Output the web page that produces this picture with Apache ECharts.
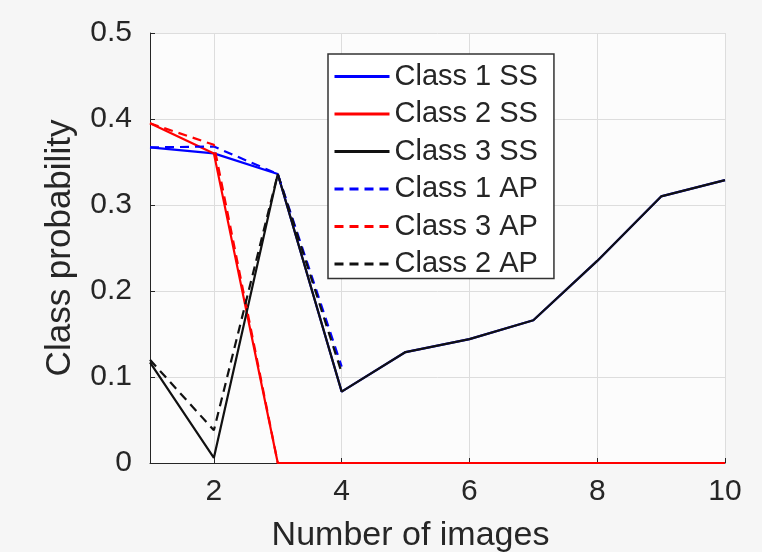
<!DOCTYPE html>
<html><head><meta charset="utf-8">
<script src="https://cdn.jsdelivr.net/npm/echarts@6/dist/echarts.min.js"></script>
<style>html,body{margin:0;padding:0;background:#f6f6f6}#c{width:762px;height:552px}</style>
</head><body><div id="c"></div>
<script>
var categories = ['1','2','3','4','5','6','7','8','9','10'];
var class1SS = [0.367, 0.360, 0.336, 0.083, 0.129, 0.144, 0.166, 0.235, 0.310, 0.329];
var class2SS = [0.395, 0.360, 0.0, 0.0, 0.0, 0.0, 0.0, 0.0, 0.0, 0.0];
var class3SS = [0.117, 0.006, 0.336, 0.083, 0.129, 0.144, 0.166, 0.235, 0.310, 0.329];
var class1AP = [0.367, 0.368, 0.336, 0.112];
var class3AP = [0.395, 0.370, 0.0, 0.0];
var class2AP = [0.120, 0.038, 0.336, 0.105];
var yTicks = {min: 0, max: 0.5, interval: 0.1};

var FONT = '"Liberation Sans", Arial, sans-serif';
var TXT = '#262626';
function line(name, data, color, dashed) {
  return {
    name: name, type: 'line', data: data, symbol: 'none', showSymbol: false,
    lineStyle: {color: color, width: 2.2, type: dashed ? [9, 6] : 'solid'},
    itemStyle: {color: color}, animation: false
  };
}
var chart = echarts.init(document.getElementById('c'), null, {renderer: 'canvas'});
chart.setOption({
  backgroundColor: '#f6f6f6',
  animation: false,
  textStyle: {fontFamily: FONT},
  grid: {left: 150, right: 37, top: 33, bottom: 89, show: true, backgroundColor: '#fcfcfc', borderWidth: 0,
         containLabel: false, outerBoundsMode: 'none'},
  legend: {
    left: 328, top: 54, orient: 'vertical',
    itemWidth: 55, itemHeight: 12, itemGap: 8.5,
    padding: [8, 16, 0, 5],
    itemStyle: {opacity: 0},
    lineStyle: {width: 3},
    backgroundColor: '#ffffff', borderColor: '#333333', borderWidth: 1.5, borderRadius: 0,
    textStyle: {fontFamily: FONT, fontSize: 29, color: TXT},
    data: ['Class 1 SS', 'Class 2 SS', 'Class 3 SS', 'Class 1 AP', 'Class 3 AP', 'Class 2 AP']
  },
  xAxis: {
    type: 'category', data: categories, boundaryGap: false,
    name: 'Number of images', nameLocation: 'middle', nameGap: 56,
    nameTextStyle: {fontFamily: FONT, fontSize: 34, color: TXT, padding: [0, 54, 0, 0]},
    axisLine: {lineStyle: {color: '#262626', width: 1}},
    axisTick: {inside: true, length: 5, interval: function (i) { return i % 2 === 1; }, lineStyle: {color: '#262626'}},
    axisLabel: {interval: function (i) { return i % 2 === 1; }, fontFamily: FONT, fontSize: 30, color: TXT, margin: 14},
    splitLine: {show: true, interval: function (i) { return i % 2 === 1; }, lineStyle: {color: '#dddddd', width: 1}}
  },
  yAxis: {
    type: 'value', min: yTicks.min, max: yTicks.max, interval: yTicks.interval,
    name: 'Class probability', nameLocation: 'middle', nameGap: 72, nameRotate: 90,
    nameTextStyle: {fontFamily: FONT, fontSize: 35, color: TXT},
    axisLine: {show: true, lineStyle: {color: '#262626', width: 1}},
    axisTick: {show: true, inside: true, length: 5, lineStyle: {color: '#262626'}},
    axisLabel: {fontFamily: FONT, fontSize: 30, color: TXT, margin: 18},
    splitLine: {show: true, lineStyle: {color: '#dddddd', width: 1}}
  },
  series: [
    line('Class 1 SS', class1SS, '#0000ff', false),
    line('Class 2 SS', class2SS, '#ff0000', false),
    line('Class 3 SS', class3SS, '#111111', false),
    line('Class 1 AP', class1AP, '#0000ff', true),
    line('Class 3 AP', class3AP, '#ff0000', true),
    line('Class 2 AP', class2AP, '#111111', true)
  ]
});
</script></body></html>
